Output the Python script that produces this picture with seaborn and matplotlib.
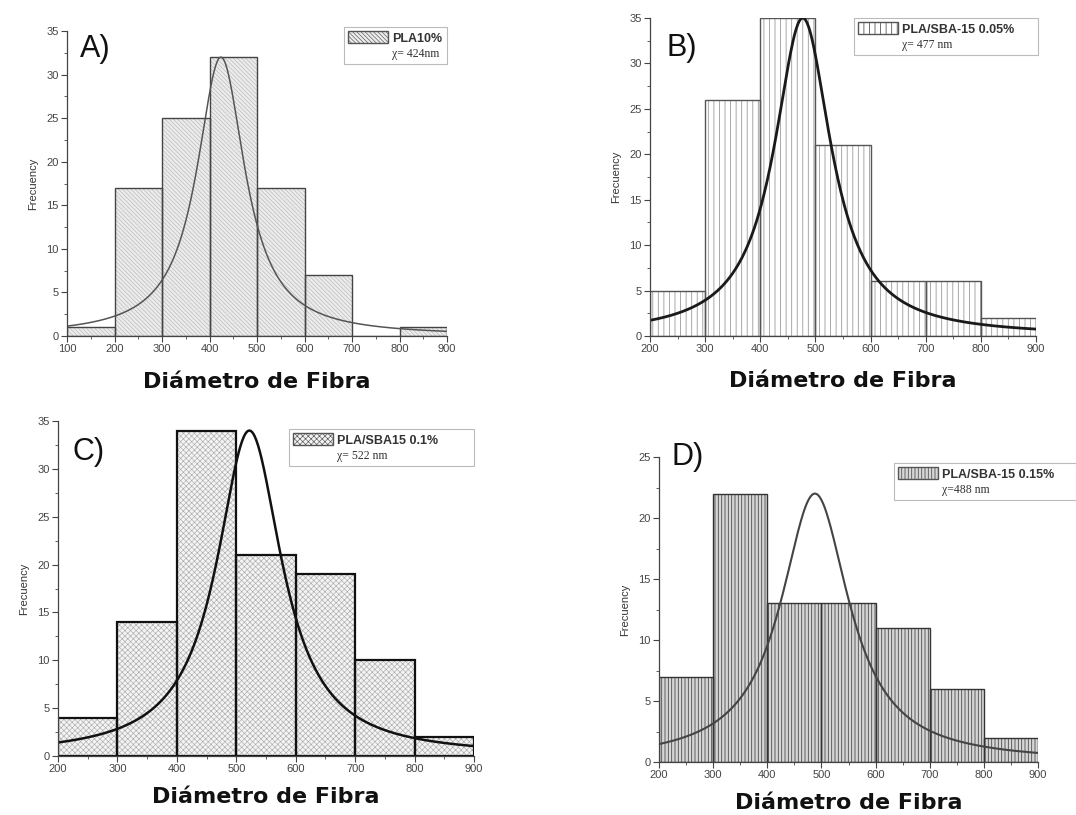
import numpy as np
import pandas as pd
import matplotlib
matplotlib.use("Agg")
import matplotlib.pyplot as plt
import seaborn as sns
from matplotlib.patches import Patch
from matplotlib.ticker import MultipleLocator

# ---------------- data ----------------
edges_a = [100, 200, 300, 400, 500, 600, 700, 800, 900]
counts_a = [1, 17, 25, 32, 17, 7, 0, 1]

edges_bcd = [200, 300, 400, 500, 600, 700, 800, 900]
counts_b = [5, 26, 35, 21, 6, 6, 2]
counts_c = [4, 14, 34, 21, 19, 10, 2]
counts_d = [7, 22, 13, 13, 11, 6, 2]

# Lorentzian fit parameters: centre, peak height, half width
fit_a = (424, 32, 62)
fit_b = (477, 35, 63)
fit_c = (522, 34, 67)
fit_d = (488, 22, 77)

labels_a = ["PLA10%", "\u03c7= 424nm"]
labels_b = ["PLA/SBA-15 0.05%", "\u03c7= 477 nm"]
labels_c = ["PLA/SBA15 0.1%", "\u03c7= 522 nm"]
labels_d = ["PLA/SBA-15 0.15%", "\u03c7=488 nm"]

xlabel = "Diámetro de Fibra"
ylabel = "Frecuency"

# ---------------- style ----------------
sns.set_style("ticks")
plt.rcParams["font.family"] = ["Liberation Sans", "DejaVu Sans"]
plt.rcParams["hatch.linewidth"] = 0.6

W, H = 1076, 815
fig = plt.figure(figsize=(W / 100, H / 100), dpi=100)


def rect(l, t, r, b):
    return [l / W, (H - b) / H, (r - l) / W, (b - t) / H]


def panel(box, edges, counts, fit, ylim, face, hatch, hatch_col, edge_col, edge_lw,
          line_col, line_lw, letter, letter_xy, labels, leg_anchor, leg_w, hatch_lw,
          xpad):
    ax = fig.add_axes(rect(*box))
    edges = [float(e) for e in edges]
    centers = [(a + b) / 2 for a, b in zip(edges[:-1], edges[1:])]
    df = pd.DataFrame({"d": centers, "n": [float(v) for v in counts]})
    plt.rcParams["hatch.linewidth"] = hatch_lw
    sns.histplot(data=df, x="d", weights="n", bins=edges, ax=ax, color=face,
                 edgecolor=hatch_col, linewidth=0, alpha=1)
    for p in ax.patches:
        p.set_hatch(hatch)
        p._hatch_linewidth = hatch_lw
    sns.histplot(data=df, x="d", weights="n", bins=edges, ax=ax, fill=False,
                 color=edge_col, linewidth=edge_lw, alpha=1)
    c, h, g = fit
    xs = np.linspace(edges[0], edges[-1], 500)
    ys = h / (1 + ((xs - c) / g) ** 2)
    sns.lineplot(x=xs, y=ys, ax=ax, color=line_col, linewidth=line_lw)

    ax.set_xlim(edges[0], edges[-1])
    ax.set_ylim(*ylim)
    ax.xaxis.set_major_locator(MultipleLocator(100))
    ax.xaxis.set_minor_locator(MultipleLocator(50))
    ax.yaxis.set_major_locator(MultipleLocator(5))
    ax.yaxis.set_minor_locator(MultipleLocator(2.5))
    ax.tick_params(which="major", direction="out", length=4, width=0.8,
                   labelsize=8, labelcolor="#444444", color="#444444", pad=2)
    ax.tick_params(which="minor", direction="out", length=2, width=0.6, color="#444444")
    for s in ["top", "right"]:
        ax.spines[s].set_visible(False)
    for s in ["left", "bottom"]:
        ax.spines[s].set_color("#444444")
        ax.spines[s].set_linewidth(0.9)
    ax.set_xlabel(xlabel, fontsize=16, fontweight="bold", color="#111111",
                  family=["DejaVu Sans"], labelpad=xpad)
    ax.set_ylabel(ylabel, fontsize=8, color="#333333", labelpad=6)
    ax.text(letter_xy[0], letter_xy[1], letter, transform=ax.transAxes,
            fontsize=22, va="center", ha="left", color="#111111", clip_on=False)

    handles = [Patch(facecolor=face, edgecolor="#555555", hatch=hatch, linewidth=1.0),
               Patch(facecolor="none", edgecolor="none")]
    leg = ax.legend(handles, labels, loc="upper left",
                    bbox_to_anchor=(leg_anchor[0], leg_anchor[1], leg_w, 0.0),
                    mode="expand", frameon=True, fancybox=False, borderaxespad=0,
                    handlelength=3.2, handleheight=1.1, handletextpad=0.3,
                    labelspacing=0.15, borderpad=0.35, fontsize=9)
    leg.get_frame().set_edgecolor("#aaaaaa")
    leg.get_frame().set_linewidth(0.8)
    t0, t1 = leg.get_texts()
    t0.set_fontweight("bold")
    t0.set_color("#333333")
    t1.set_family(["Liberation Serif", "DejaVu Serif"])
    t1.set_fontsize(8.5)
    t1.set_color("#333333")
    return ax


panel((67, 31, 447, 336), edges_a, counts_a, fit_a, (0, 35),
      face="#ececec", hatch="\\" * 8, hatch_col="#b8b8b8", edge_col="#444444", edge_lw=1.0,
      line_col="#555555", line_lw=1.1, letter="A)", letter_xy=(0.034, 0.94),
      labels=labels_a, leg_anchor=(0.729, 1.013), leg_w=0.271, hatch_lw=0.45, xpad=13)

panel((650, 18, 1036, 336), edges_bcd, counts_b, fit_b, (0, 35),
      face="#ffffff", hatch="|" * 3, hatch_col="#9a9a9a", edge_col="#555555", edge_lw=1.0,
      line_col="#1a1a1a", line_lw=2.0, letter="B)", letter_xy=(0.044, 0.905),
      labels=labels_b, leg_anchor=(0.528, 1.0), leg_w=0.477, hatch_lw=0.6, xpad=12)

panel((58, 421, 474, 756), edges_bcd, counts_c, fit_c, (0, 35),
      face="#f4f4f4", hatch="x" * 6, hatch_col="#acacac", edge_col="#111111", edge_lw=1.6,
      line_col="#111111", line_lw=1.8, letter="C)", letter_xy=(0.036, 0.907),
      labels=labels_c, leg_anchor=(0.555, 0.976), leg_w=0.445, hatch_lw=0.45, xpad=9)

panel((659, 457, 1038, 762), edges_bcd, counts_d, fit_d, (0, 25),
      face="#d6d6d6", hatch="|" * 5, hatch_col="#4a4a4a", edge_col="#333333", edge_lw=1.0,
      line_col="#444444", line_lw=1.5, letter="D)", letter_xy=(0.034, 1.0),
      labels=labels_d, leg_anchor=(0.62, 0.98), leg_w=0.48, hatch_lw=0.6, xpad=9)

fig.savefig("out.png", dpi=100)
